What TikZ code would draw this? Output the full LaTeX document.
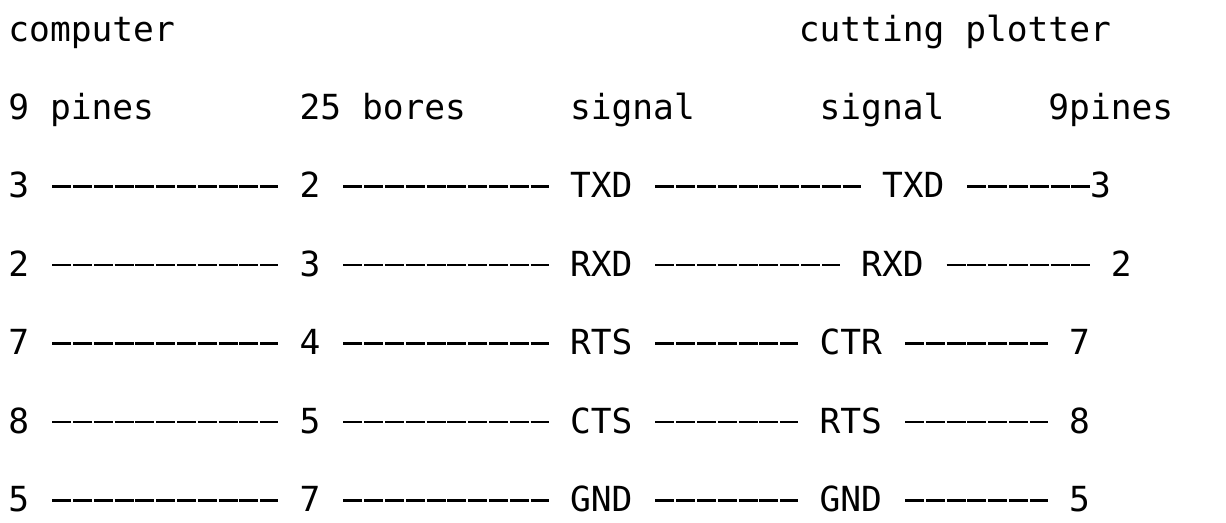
\documentclass[tikz,border=0pt]{standalone}
\usepackage{fontspec}
\setmonofont{DejaVu Sans Mono}
\tikzset{
  pin/.style={anchor=base west, inner sep=0pt, text height=11.2pt, text depth=0pt,
    font=\ttfamily\fontsize{17.28pt}{20pt}\selectfont},
  wire/.style={line width=1.3pt, dash pattern=on 9.5pt off 0.9pt,
    shorten <=11.3pt, shorten >=10.4pt}
}
\begin{document}
\begin{tikzpicture}[x=10.4pt, y=-39.2pt]
    \useasboundingbox (-0.3846,-0.5255) rectangle (58.558,6.1454);

    % headings
    \node[pin] (pc) at (0,0) {computer};
    \node[pin] (plotter) at (38,0) {cutting plotter};
    \node[pin] (hpin) at (0,1) {9 pines};
    \node[pin] (hbore) at (14,1) {25 bores};
    \node[pin] (hsiga) at (27,1) {signal};
    \node[pin] (hsigb) at (39,1) {signal};
    \node[pin] (hpinb) at (50,1) {9pines};

    % pins and signals
    \node[pin] (txa) at (0,2) {3};
    \node[pin] (txb) at (14,2) {2};
    \node[pin] (txc) at (27,2) {TXD};
    \node[pin] (txd) at (42,2) {TXD};
    \node[pin] (txe) at (52,2) {3};

    \node[pin] (rxa) at (0,3) {2};
    \node[pin] (rxb) at (14,3) {3};
    \node[pin] (rxc) at (27,3) {RXD};
    \node[pin] (rxd) at (41,3) {RXD};
    \node[pin] (rxe) at (53,3) {2};

    \node[pin] (rta) at (0,4) {7};
    \node[pin] (rtb) at (14,4) {4};
    \node[pin] (rtc) at (27,4) {RTS};
    \node[pin] (rtd) at (39,4) {CTR};
    \node[pin] (rte) at (51,4) {7};

    \node[pin] (cta) at (0,5) {8};
    \node[pin] (ctb) at (14,5) {5};
    \node[pin] (ctc) at (27,5) {CTS};
    \node[pin] (ctd) at (39,5) {RTS};
    \node[pin] (cte) at (51,5) {8};

    \node[pin] (gna) at (0,6) {5};
    \node[pin] (gnb) at (14,6) {7};
    \node[pin] (gnc) at (27,6) {GND};
    \node[pin] (gnd) at (39,6) {GND};
    \node[pin] (gne) at (51,6) {5};

    % wires
    \foreach \r in {tx,rx,rt,ct,gn} {
        \draw[wire] (\r a.east) -- (\r b.west);
        \draw[wire] (\r b.east) -- (\r c.west);
        \draw[wire] (\r c.east) -- (\r d.west);
    }
    \draw[wire, shorten >=0pt] (txd.east) -- (txe.west);
    \foreach \r in {rx,rt,ct,gn}
        \draw[wire] (\r d.east) -- (\r e.west);
\end{tikzpicture}
\end{document}
